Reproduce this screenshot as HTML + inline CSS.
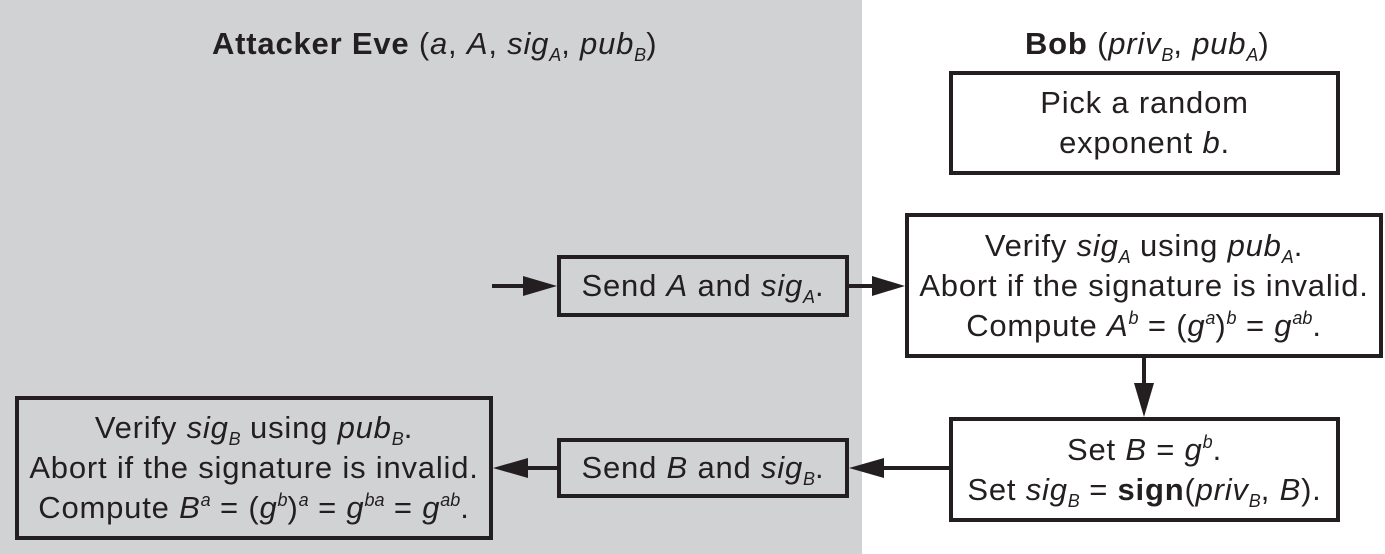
<!DOCTYPE html>
<html><head><meta charset="utf-8"><style>
body{margin:0;width:1385px;height:554px;position:relative;background:#fff;font-family:"Liberation Sans",sans-serif;color:#231f20;overflow:hidden}
.gray{position:absolute;left:0;top:0;width:862px;height:554px;background:#d1d2d4}
.box{position:absolute;border:4px solid #231f20;box-sizing:border-box;display:flex;flex-direction:column;justify-content:center;align-items:center;text-align:center;font-size:31px;letter-spacing:0.8px;line-height:40px;white-space:nowrap}
.t{position:absolute;font-size:31px;letter-spacing:0.8px;white-space:nowrap}
i{font-style:italic}
sub{font-size:18px;vertical-align:-7px;line-height:0;letter-spacing:0}
sup{font-size:18px;vertical-align:12px;line-height:0;letter-spacing:0}
</style></head><body>
<div class="gray"></div>
<div class="t" style="left:212px;top:26px"><b>Attacker Eve</b> (<i>a</i>, <i>A</i>, <i>sig<sub>A</sub></i>, <i>pub<sub>B</sub></i>)</div>
<div class="t" style="left:1025px;top:26px"><b>Bob</b> (<i>priv<sub>B</sub></i>, <i>pub<sub>A</sub></i>)</div>
<div class="box" style="left:949px;top:71px;width:391px;height:104px;background:#fff"><div>Pick a random</div><div>exponent <i>b</i>.</div></div>
<div class="box" style="left:905px;top:213px;width:478px;height:145px;background:#fff"><div>Verify <i>sig<sub>A</sub></i> using <i>pub<sub>A</sub></i>.</div><div>Abort if the signature is invalid.</div><div>Compute <i>A<sup>b</sup></i> = (<i>g<sup>a</sup></i>)<i><sup>b</sup></i> = <i>g<sup>ab</sup></i>.</div></div>
<div class="box" style="left:949px;top:417px;width:391px;height:105px;background:#fff"><div>Set <i>B</i> = <i>g<sup>b</sup></i>.</div><div>Set <i>sig<sub>B</sub></i> = <b>sign</b>(<i>priv<sub>B</sub></i>, <i>B</i>).</div></div>
<div class="box" style="left:557px;top:255px;width:292px;height:62px"><div>Send <i>A</i> and <i>sig<sub>A</sub></i>.</div></div>
<div class="box" style="left:557px;top:438px;width:292px;height:60px"><div>Send <i>B</i> and <i>sig<sub>B</sub></i>.</div></div>
<div class="box" style="left:15px;top:396px;width:478px;height:144px"><div>Verify <i>sig<sub>B</sub></i> using <i>pub<sub>B</sub></i>.</div><div>Abort if the signature is invalid.</div><div>Compute <i>B<sup>a</sup></i> = (<i>g<sup>b</sup></i>)<i><sup>a</sup></i> = <i>g<sup>ba</sup></i> = <i>g<sup>ab</sup></i>.</div></div>
<svg width="1385" height="554" style="position:absolute;left:0;top:0" fill="#231f20" stroke="#231f20">
<line x1="492" y1="286" x2="530" y2="286" stroke-width="4"/><polygon points="523,276 557,286 523,296" stroke="none"/>
<line x1="849" y1="286" x2="880" y2="286" stroke-width="4"/><polygon points="872,276 905,286 872,296" stroke="none"/>
<line x1="1144" y1="358" x2="1144" y2="390" stroke-width="4"/><polygon points="1134,383 1144,417 1154,383" stroke="none"/>
<line x1="949" y1="468" x2="880" y2="468" stroke-width="4"/><polygon points="884,458 849,468 884,478" stroke="none"/>
<line x1="557" y1="468" x2="525" y2="468" stroke-width="4"/><polygon points="528,458 493,468 528,478" stroke="none"/>
</svg>
</body></html>
